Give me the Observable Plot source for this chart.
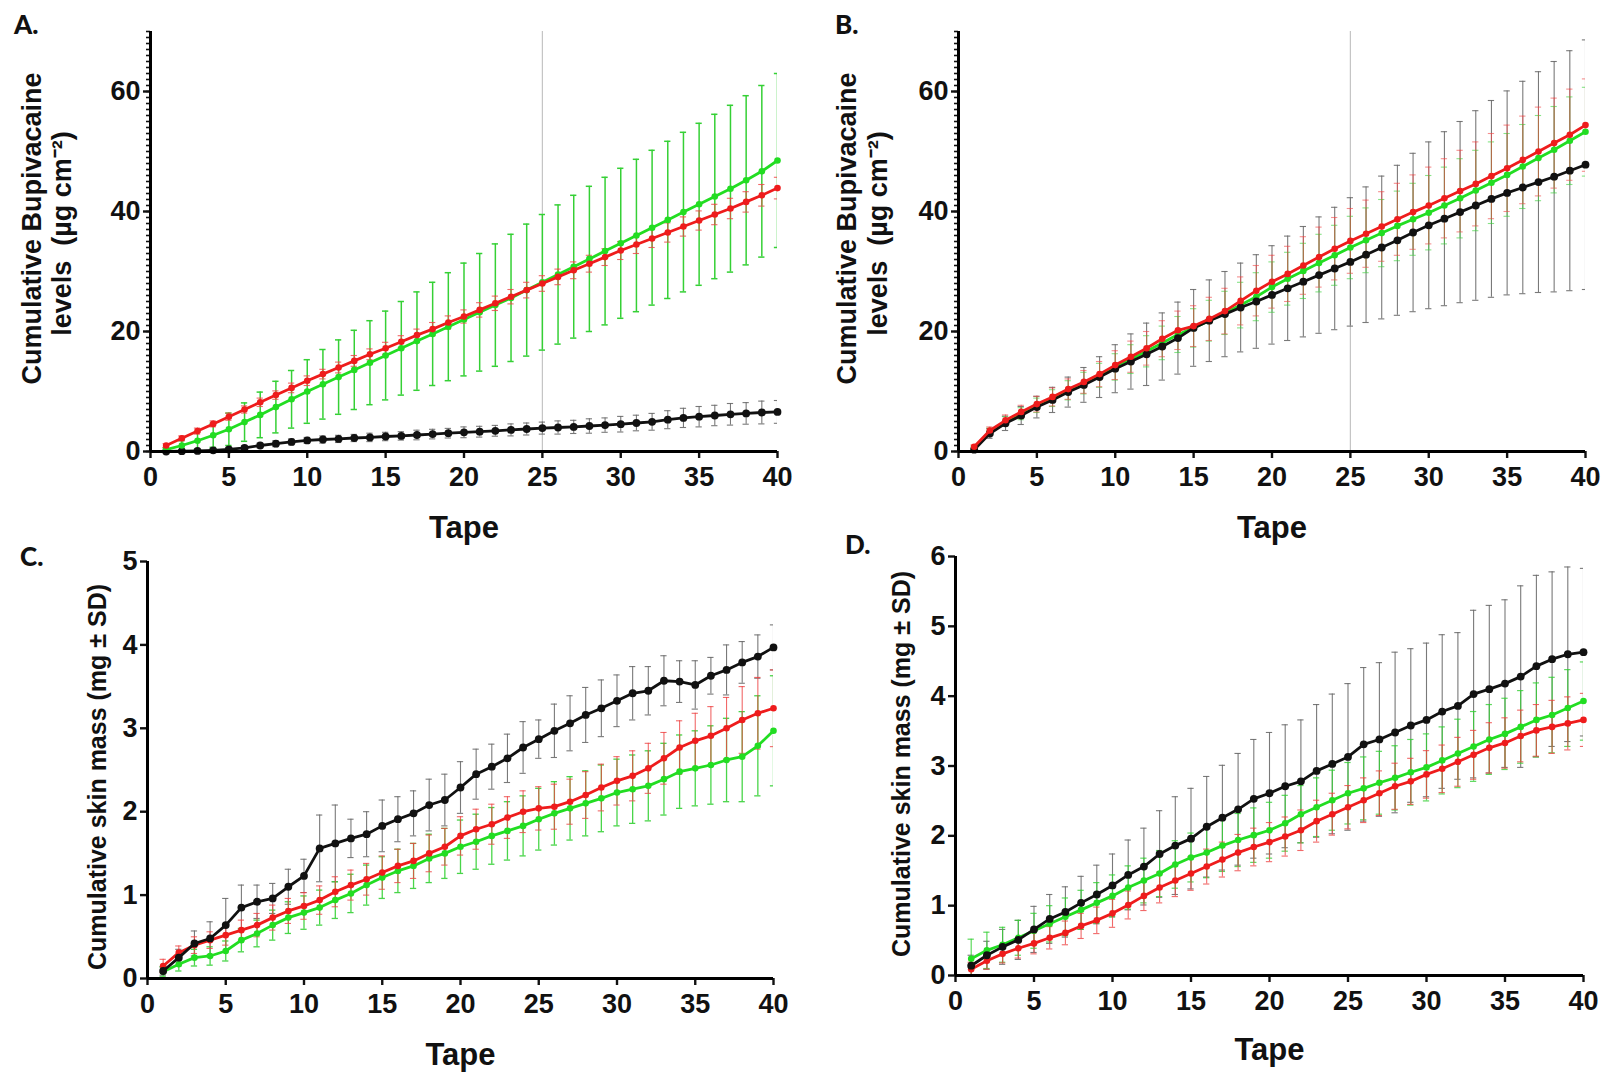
<!DOCTYPE html>
<html>
<head>
<meta charset="utf-8">
<script src="https://cdn.jsdelivr.net/npm/d3@7"></script>
<script src="https://cdn.jsdelivr.net/npm/@observablehq/plot@0.6"></script>
<style>
  html, body { margin: 0; padding: 0; background: #fff; }
  #wrap { position: relative; width: 1606px; height: 1075px; background: #fff; overflow: hidden; }
  .panel { position: absolute; }
  .letter { position: absolute; font-family: Lato, "Liberation Sans", Arial, sans-serif; font-weight: 900; font-size: 26px; color: #111; }
</style>
</head>
<body>
<div id="wrap"></div>
<script>
// ---------- data ----------
const tapes = [1,2,3,4,5,6,7,8,9,10,11,12,13,14,15,16,17,18,19,20,21,22,23,24,25,26,27,28,29,30,31,32,33,34,35,36,37,38,39,40];
const xTicks = [0,5,10,15,20,25,30,35,40];
const yTicksAB = [0,20,40,60];
const yMinorAB = [0,1,2,3,4,5,6,7,8,9,10,11,12,13,14,15,16,17,18,19,20,21,22,23,24,25,26,27,28,29,30,31,32,33,34,35,36,37,38,39,40,41,42,43,44,45,46,47,48,49,50,51,52,53,54,55,56,57,58,59,60,61,62,63,64,65,66,67,68,69,70];
const yTicksC = [0,1,2,3,4,5];
const yTicksD = [0,1,2,3,4,5,6];
const markerLine = [25];

// Panel A
const redA = [1.0,2.2,3.4,4.6,5.8,7.0,8.2,9.4,10.6,11.8,12.9,14.0,15.1,16.2,17.2,18.3,19.4,20.4,21.5,22.5,23.6,24.7,25.8,26.9,28.0,29.1,30.2,31.3,32.4,33.5,34.5,35.5,36.5,37.5,38.5,39.5,40.5,41.6,42.7,43.9];
const redSdA = [0.3,0.4,0.5,0.5,0.6,0.6,0.7,0.7,0.8,0.8,0.8,0.9,0.9,0.9,1.0,1.0,1.0,1.1,1.1,1.1,1.2,1.2,1.2,1.3,1.3,1.3,1.4,1.4,1.4,1.5,1.5,1.5,1.6,1.6,1.6,1.7,1.7,1.7,1.8,1.8];
const greenA = [0.3,1.0,1.8,2.7,3.7,4.9,6.1,7.4,8.7,10.0,11.2,12.4,13.6,14.8,16.0,17.2,18.4,19.6,20.8,22.0,23.2,24.4,25.6,26.9,28.2,29.5,30.8,32.1,33.4,34.7,36.0,37.3,38.6,39.9,41.2,42.5,43.8,45.2,46.7,48.5];
const greenSdA = [0.3,0.8,1.4,2.0,2.7,3.2,3.8,4.3,4.8,5.3,5.8,6.2,6.6,7.0,7.4,7.8,8.2,8.6,9.0,9.4,9.8,10.2,10.6,11.0,11.3,11.6,11.9,12.1,12.3,12.5,12.7,12.9,13.1,13.3,13.5,13.7,13.9,14.1,14.3,14.5];
const blackA = [0.0,0.05,0.1,0.2,0.35,0.6,1.0,1.3,1.6,1.85,2.0,2.1,2.25,2.35,2.5,2.6,2.75,2.9,3.05,3.2,3.3,3.45,3.6,3.75,3.9,4.0,4.1,4.25,4.4,4.55,4.75,4.95,5.3,5.6,5.8,6.0,6.2,6.35,6.5,6.6];
const blackSdA = [0.1,0.2,0.2,0.3,0.3,0.4,0.4,0.5,0.5,0.5,0.6,0.6,0.6,0.7,0.7,0.7,0.8,0.8,0.8,0.9,0.9,0.9,1.0,1.0,1.0,1.1,1.1,1.2,1.2,1.3,1.3,1.4,1.5,1.6,1.7,1.7,1.8,1.8,1.9,1.9];

// Panel B
const blackB = [0.3,3.0,4.7,6.0,7.4,8.6,9.9,11.1,12.4,13.8,15.0,16.2,17.5,18.9,20.6,21.8,22.9,24.0,25.0,26.1,27.2,28.3,29.4,30.5,31.6,32.8,34.0,35.2,36.5,37.7,38.8,39.9,41.0,42.1,43.1,44.0,44.9,45.8,46.8,47.8];
const blackSdB = [0.3,0.8,1.2,1.5,1.8,2.1,2.5,2.9,3.4,4.0,4.6,5.2,5.6,6.0,6.4,6.8,7.1,7.4,7.8,8.2,8.7,9.2,9.7,10.2,10.7,11.3,11.9,12.5,13.2,13.9,14.5,15.1,15.8,16.4,17.0,17.7,18.4,19.2,20.0,20.8];
const redB = [0.8,3.5,5.2,6.6,7.9,9.1,10.4,11.6,12.9,14.4,15.8,17.2,18.8,20.2,20.9,22.1,23.4,25.1,26.8,28.3,29.6,31.0,32.4,33.8,35.1,36.3,37.5,38.7,39.9,41.0,42.2,43.4,44.6,45.9,47.2,48.6,50.0,51.4,52.8,54.4];
const redSdB = [0.3,0.6,0.9,1.1,1.3,1.5,1.7,1.9,2.1,2.4,2.6,2.8,3.0,3.2,3.4,3.6,3.8,4.0,4.2,4.4,4.6,4.8,5.0,5.2,5.4,5.6,5.8,6.0,6.2,6.4,6.6,6.8,7.0,7.1,7.2,7.3,7.4,7.5,7.6,7.7];
const greenB = [0.6,3.3,5.0,6.3,7.7,8.9,10.2,11.4,12.7,14.1,15.4,16.7,18.1,19.5,20.6,21.8,23.1,24.4,25.8,27.4,28.8,30.1,31.4,32.7,34.0,35.2,36.4,37.6,38.7,39.8,41.0,42.2,43.5,44.8,46.1,47.5,48.9,50.3,51.8,53.3];
const greenSdB = [0.3,0.6,0.8,1.0,1.2,1.4,1.6,1.8,2.0,2.2,2.4,2.6,2.8,3.0,3.2,3.4,3.6,3.8,4.0,4.2,4.4,4.6,4.8,5.0,5.2,5.4,5.6,5.8,6.0,6.2,6.4,6.6,6.7,6.8,6.9,7.0,7.1,7.2,7.3,7.4];

// Panel C
const blackC = [0.09,0.25,0.42,0.48,0.64,0.85,0.92,0.96,1.10,1.23,1.56,1.62,1.68,1.73,1.83,1.91,1.98,2.08,2.14,2.29,2.45,2.54,2.64,2.77,2.87,2.97,3.06,3.16,3.24,3.33,3.42,3.45,3.57,3.56,3.52,3.63,3.70,3.79,3.86,3.97];
const blackSdC = [0.05,0.1,0.15,0.2,0.32,0.27,0.2,0.18,0.21,0.2,0.4,0.46,0.23,0.27,0.31,0.27,0.27,0.31,0.31,0.31,0.3,0.27,0.29,0.31,0.23,0.32,0.33,0.33,0.34,0.31,0.32,0.29,0.3,0.25,0.29,0.22,0.3,0.25,0.26,0.27];
const redC = [0.15,0.31,0.40,0.46,0.52,0.58,0.64,0.73,0.81,0.87,0.94,1.04,1.12,1.19,1.27,1.35,1.41,1.50,1.58,1.71,1.79,1.85,1.93,2.00,2.04,2.06,2.12,2.20,2.29,2.37,2.43,2.52,2.64,2.77,2.85,2.91,3.00,3.10,3.18,3.24];
const redSdC = [0.08,0.08,0.1,0.1,0.12,0.12,0.14,0.15,0.15,0.16,0.17,0.18,0.18,0.19,0.2,0.2,0.21,0.22,0.22,0.23,0.24,0.24,0.25,0.25,0.26,0.27,0.27,0.28,0.28,0.29,0.3,0.3,0.31,0.32,0.33,0.35,0.37,0.4,0.43,0.46];
const greenC = [0.08,0.17,0.25,0.27,0.33,0.46,0.54,0.64,0.73,0.79,0.85,0.94,1.02,1.12,1.21,1.29,1.35,1.44,1.50,1.58,1.64,1.71,1.77,1.83,1.91,1.98,2.04,2.10,2.16,2.23,2.27,2.31,2.39,2.48,2.52,2.56,2.62,2.66,2.79,2.97];
const greenSdC = [0.06,0.08,0.1,0.11,0.12,0.14,0.16,0.18,0.19,0.2,0.21,0.22,0.23,0.24,0.25,0.26,0.27,0.29,0.3,0.32,0.33,0.34,0.35,0.36,0.37,0.38,0.38,0.39,0.4,0.4,0.41,0.42,0.43,0.44,0.45,0.47,0.5,0.54,0.6,0.66];

// Panel D
const blackD = [0.14,0.29,0.41,0.51,0.66,0.81,0.91,1.04,1.16,1.29,1.44,1.56,1.74,1.86,1.96,2.13,2.26,2.38,2.53,2.61,2.71,2.78,2.93,3.03,3.13,3.31,3.38,3.48,3.58,3.66,3.78,3.86,4.03,4.10,4.18,4.28,4.43,4.53,4.60,4.63];
const blackSdD = [0.15,0.2,0.25,0.28,0.33,0.35,0.36,0.38,0.42,0.45,0.5,0.55,0.62,0.7,0.72,0.72,0.75,0.8,0.85,0.87,0.88,0.88,0.95,1.0,1.05,1.1,1.1,1.15,1.1,1.1,1.1,1.05,1.2,1.2,1.2,1.3,1.3,1.25,1.25,1.2];
const greenD = [0.24,0.36,0.44,0.54,0.64,0.74,0.84,0.94,1.04,1.14,1.26,1.36,1.46,1.59,1.69,1.76,1.86,1.94,2.01,2.08,2.18,2.31,2.41,2.51,2.61,2.68,2.76,2.83,2.91,2.98,3.08,3.18,3.28,3.38,3.46,3.56,3.66,3.73,3.83,3.93];
const greenSdD = [0.28,0.26,0.25,0.25,0.25,0.26,0.27,0.28,0.29,0.3,0.31,0.32,0.33,0.34,0.35,0.36,0.37,0.38,0.39,0.4,0.4,0.41,0.42,0.43,0.44,0.45,0.45,0.46,0.47,0.48,0.48,0.49,0.5,0.5,0.51,0.52,0.53,0.54,0.55,0.56];
const redD = [0.09,0.21,0.31,0.39,0.46,0.54,0.61,0.71,0.79,0.89,1.01,1.14,1.26,1.36,1.46,1.56,1.66,1.76,1.84,1.91,1.99,2.08,2.21,2.31,2.41,2.51,2.61,2.71,2.78,2.88,2.96,3.06,3.16,3.26,3.33,3.43,3.51,3.56,3.61,3.66];
const redSdD = [0.1,0.12,0.13,0.14,0.15,0.16,0.17,0.18,0.19,0.2,0.2,0.21,0.22,0.23,0.24,0.25,0.25,0.26,0.27,0.28,0.28,0.29,0.3,0.3,0.31,0.32,0.32,0.33,0.33,0.34,0.34,0.35,0.35,0.36,0.36,0.37,0.37,0.38,0.38,0.38];

// ---------- styling ----------
const COLORS = {black: "#111111", green: "#22dd22", red: "#ee1c1c"};
const BAR = {black: "#6a6a6a", green: "#35d035", red: "#ee4444"};
const DOT_R = {black: 3.9, green: 3.3, red: 3.3};
const FONT = "'Liberation Sans', Arial, Helvetica, sans-serif";

function rows(mean, sd) {
  return tapes.map((t, i) => ({t, v: mean[i], lo: mean[i] - sd[i], hi: mean[i] + sd[i]}));
}

function seriesMarks(name, mean, sd, barWidth, barOpacity) {
  const data = rows(mean, sd);
  return {
    bars: [
      Plot.ruleX(data, {x: "t", y1: "lo", y2: "hi", stroke: BAR[name], strokeWidth: barWidth, strokeOpacity: barOpacity, clip: true}),
      Plot.ruleY(data, {y: "hi", x1: d => d.t - 0.2, x2: d => d.t + 0.2, stroke: BAR[name], strokeWidth: barWidth, strokeOpacity: barOpacity, clip: true}),
      Plot.ruleY(data, {y: "lo", x1: d => d.t - 0.2, x2: d => d.t + 0.2, stroke: BAR[name], strokeWidth: barWidth, strokeOpacity: barOpacity, clip: true})
    ],
    line: [
      Plot.line(data, {x: "t", y: "v", stroke: COLORS[name], strokeWidth: 2.8}),
      Plot.dot(data, {x: "t", y: "v", r: DOT_R[name], fill: COLORS[name], stroke: "none"})
    ]
  };
}

function panel(cfg) {
  const s = cfg.series.map(d => seriesMarks(d.name, d.mean, d.sd, d.bw, d.bo));
  const marks = [];
  if (cfg.vline) marks.push(Plot.ruleX(markerLine, {stroke: "#c4c4c4", strokeWidth: 1.2}));
  s.forEach(m => marks.push(...m.bars));
  cfg.order.forEach(i => marks.push(...s[i].line));
  if (cfg.minor) marks.push(Plot.axisY({ticks: cfg.minor, tickSize: 4, text: null, strokeWidth: 1.6}));
  marks.push(
    Plot.axisY({ticks: cfg.yTicks, tickFormat: d => String(d), tickSize: 7, tickPadding: 3, strokeWidth: 2.4, fontSize: 27, fontWeight: "bold", label: null}),
    Plot.axisX({ticks: xTicks, tickFormat: d => String(d), tickSize: 7, tickPadding: 8, strokeWidth: 2.4, fontSize: 27, fontWeight: "bold", label: null}),
    Plot.ruleX([0], {stroke: "#000", strokeWidth: 3}),
    Plot.ruleY([0], {stroke: "#000", strokeWidth: 3}),
    Plot.text(["Tape"], {text: d => d, frameAnchor: "bottom", lineAnchor: "middle", textAnchor: "middle", dy: cfg.tapeDy, fontSize: 31, fontWeight: "bold", fill: "#111"})
  );
  cfg.ylabel.forEach(l => marks.push(
    Plot.text([l.text], {text: d => d, frameAnchor: "left", textAnchor: "middle", lineAnchor: "middle", rotate: -90, dx: l.dx, dy: l.dy, fontSize: l.size, fontWeight: "bold", fill: "#111"})
  ));
  const chart = Plot.plot({
    width: cfg.width, height: cfg.height,
    marginLeft: cfg.ml, marginRight: cfg.mr, marginTop: cfg.mt, marginBottom: cfg.mb,
    x: {domain: [0, 40], axis: null},
    y: {domain: cfg.yDomain, axis: null},
    style: {fontFamily: FONT, background: "transparent", color: "#111", overflow: "visible"},
    marks
  });
  chart.classList.add("panel");
  chart.style.left = cfg.left + "px";
  chart.style.top = cfg.top + "px";
  return chart;
}

const wrap = document.getElementById("wrap");

wrap.appendChild(panel({
  left: 0, top: 0, width: 800, height: 540, ml: 150, mr: 23, mt: 31, mb: 89,
  yDomain: [0, 70], yTicks: yTicksAB, minor: yMinorAB, vline: true, tapeDy: 77,
  series: [
    {name: "black", mean: blackA, sd: blackSdA, bw: 1.1, bo: 0.9},
    {name: "green", mean: greenA, sd: greenSdA, bw: 1.5, bo: 1},
    {name: "red", mean: redA, sd: redSdA, bw: 1.1, bo: 0.8}
  ],
  order: [0, 1, 2],
  ylabel: [
    {text: "Cumulative Bupivacaine", dx: -118, dy: -13, size: 27},
    {text: "levels\u00a0\u00a0(\u00b5g cm\u207b\u00b2)", dx: -88, dy: -8, size: 27}
  ]
}));

wrap.appendChild(panel({
  left: 800, top: 0, width: 806, height: 540, ml: 158, mr: 21, mt: 31, mb: 89,
  yDomain: [0, 70], yTicks: yTicksAB, minor: yMinorAB, vline: true, tapeDy: 77,
  series: [
    {name: "black", mean: blackB, sd: blackSdB, bw: 1.1, bo: 0.9},
    {name: "green", mean: greenB, sd: greenSdB, bw: 1.1, bo: 0.6},
    {name: "red", mean: redB, sd: redSdB, bw: 1.1, bo: 0.6}
  ],
  order: [1, 0, 2],
  ylabel: [
    {text: "Cumulative Bupivacaine", dx: -111, dy: -13, size: 27},
    {text: "levels\u00a0\u00a0(\u00b5g cm\u207b\u00b2)", dx: -80, dy: -8, size: 27}
  ]
}));

wrap.appendChild(panel({
  left: 0, top: 540, width: 800, height: 535, ml: 147, mr: 27, mt: 21, mb: 97,
  yDomain: [0, 5], yTicks: yTicksC, minor: null, vline: false, tapeDy: 77,
  series: [
    {name: "black", mean: blackC, sd: blackSdC, bw: 1.1, bo: 0.9},
    {name: "green", mean: greenC, sd: greenSdC, bw: 1.3, bo: 0.9},
    {name: "red", mean: redC, sd: redSdC, bw: 1.1, bo: 0.8}
  ],
  order: [1, 2, 0],
  ylabel: [
    {text: "Cumulative skin mass (mg \u00b1 SD)", dx: -50, dy: 7, size: 25}
  ]
}));

wrap.appendChild(panel({
  left: 800, top: 540, width: 806, height: 535, ml: 155, mr: 23, mt: 16, mb: 100,
  yDomain: [0, 6], yTicks: yTicksD, minor: null, vline: false, tapeDy: 75,
  series: [
    {name: "black", mean: blackD, sd: blackSdD, bw: 1.1, bo: 0.9},
    {name: "green", mean: greenD, sd: greenSdD, bw: 1.2, bo: 0.8},
    {name: "red", mean: redD, sd: redSdD, bw: 1.1, bo: 0.8}
  ],
  order: [1, 2, 0],
  ylabel: [
    {text: "Cumulative skin mass (mg \u00b1 SD)", dx: -54, dy: -2, size: 25}
  ]
}));

// panel letters
[["A.", 14, 8], ["B.", 835, 8], ["C.", 20, 540], ["D.", 845, 528]].forEach(([t, x, y]) => {
  const d = document.createElement("div");
  d.className = "letter";
  d.textContent = t;
  d.style.left = x + "px";
  d.style.top = y + "px";
  wrap.appendChild(d);
});
</script>
</body>
</html>
